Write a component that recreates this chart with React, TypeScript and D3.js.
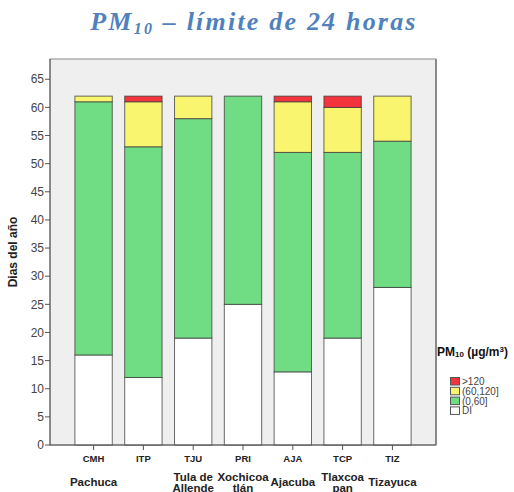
import React from "react";
import * as d3 from "d3";

const stations = ["CMH", "ITP", "TJU", "PRI", "AJA", "TCP", "TIZ"];
const cities = [["Pachuca"], [""], ["Tula de", "Allende"], ["Xochicoa", "tlán"], ["Ajacuba"], ["Tlaxcoa", "pan"], ["Tizayuca"]];
const diValues = [16, 12, 19, 25, 13, 19, 28];
const lowValues = [45, 41, 39, 37, 39, 33, 26];
const midValues = [1, 8, 4, 0, 9, 8, 8];
const highValues = [0, 1, 0, 0, 1, 2, 0];
const seriesKeys = ["DI", "(0,60]", "(60,120]", ">120"];
const seriesColors = ["#ffffff", "#70dc84", "#f9f56e", "#f4343c"];
const yTicks = [0, 5, 10, 15, 20, 25, 30, 35, 40, 45, 50, 55, 60, 65];

const W = 514, H = 492;
const left = 50, right = 436, top = 59, bottom = 445;

export default function App() {
  const data = stations.map((s, i) => ({
    station: s,
    "DI": diValues[i],
    "(0,60]": lowValues[i],
    "(60,120]": midValues[i],
    ">120": highValues[i],
  }));
  const stack = d3.stack<any>().keys(seriesKeys)(data);
  const x = d3.scaleBand().domain(stations).range([left, right]).paddingInner(0.25).paddingOuter(0.5);
  const y = d3.scaleLinear().domain([0, 68.6]).range([bottom, top]);
  const font = "'Liberation Sans', Arial, sans-serif";

  return (
    <svg width={W} height={H} style={{ position: "absolute", left: 0, top: 0 }} fontFamily={font}>
      <text x={254} y={30} textAnchor="middle" fill="#4f81bd" fontFamily="'Liberation Serif', 'DejaVu Serif', serif" fontWeight="bold" fontStyle="italic" fontSize={26} letterSpacing={2.2}>
        PM<tspan fontSize={16} dy={4}>10</tspan><tspan dy={-4}> – límite de 24 horas</tspan>
      </text>
      <rect x={left} y={top} width={right - left} height={bottom - top} fill="#efefef" stroke="#8a8a8a" strokeWidth={1} />
      <line x1={right} x2={right} y1={top} y2={bottom} stroke="#8a8a8a" strokeWidth={2} />
      {stack.map((layer, li) =>
        layer.map((d, i) => {
          const h = y(d[0]) - y(d[1]);
          if (h <= 0) return null;
          return (
            <rect key={li + "-" + i} x={x(stations[i])!} width={x.bandwidth()} y={y(d[1])} height={h}
              fill={seriesColors[li]} stroke="#3a3a3a" strokeOpacity={0.75} strokeWidth={1} />
          );
        })
      )}
      <line x1={left} x2={left} y1={top} y2={bottom} stroke="#555" />
      <line x1={left} x2={right} y1={bottom} y2={bottom} stroke="#555" />
      {yTicks.map((t) => (
        <g key={t}>
          <line x1={left - 5} x2={left} y1={y(t)} y2={y(t)} stroke="#555" />
          <text x={left - 6} y={y(t)} dy="0.35em" textAnchor="end" fontSize={12} fill="#444">{t}</text>
        </g>
      ))}
      <text transform={`translate(17,252) rotate(-90)`} textAnchor="middle" fontSize={12} fontWeight="bold" fill="#222">Dias del año</text>
      {stations.map((s) => (
        <g key={s}>
          <line x1={x(s)! + x.bandwidth() / 2} x2={x(s)! + x.bandwidth() / 2} y1={bottom} y2={bottom + 5} stroke="#555" />
          <text x={x(s)! + x.bandwidth() / 2} y={462} textAnchor="middle" fontSize={9.5} fontWeight="bold" fill="#222">{s}</text>
        </g>
      ))}
      {cities.map((lines, i) => {
        const cx = x(stations[i])! + x.bandwidth() / 2;
        if (lines.length === 1) {
          if (!lines[0]) return null;
          return <text key={i} x={cx} y={486} textAnchor="middle" fontSize={11.5} fontWeight="bold" fill="#222">{lines[0]}</text>;
        }
        return (
          <text key={i} x={cx} y={481} textAnchor="middle" fontSize={11.5} fontWeight="bold" fill="#222">
            <tspan x={cx}>{lines[0]}</tspan>
            <tspan x={cx} dy={10.5}>{lines[1]}</tspan>
          </text>
        );
      })}
      <text x={437} y={356} fontSize={12} fontWeight="bold" fill="#111">
        PM<tspan fontSize={8} dy={1}>10</tspan><tspan dy={-1}> (µg/m</tspan><tspan fontSize={8} dy={-4}>3</tspan><tspan dy={4}>)</tspan>
      </text>
      {[3, 2, 1, 0].map((si, k) => (
        <g key={si}>
          <rect x={450.5} y={377.5 + k * 9.8} width={9} height={7.5} fill={seriesColors[si]} stroke="#555" strokeWidth={1} />
          <text x={462} y={381.5 + k * 9.8} dy="0.35em" fontSize={10} fill="#444">{seriesKeys[si]}</text>
        </g>
      ))}
    </svg>
  );
}
